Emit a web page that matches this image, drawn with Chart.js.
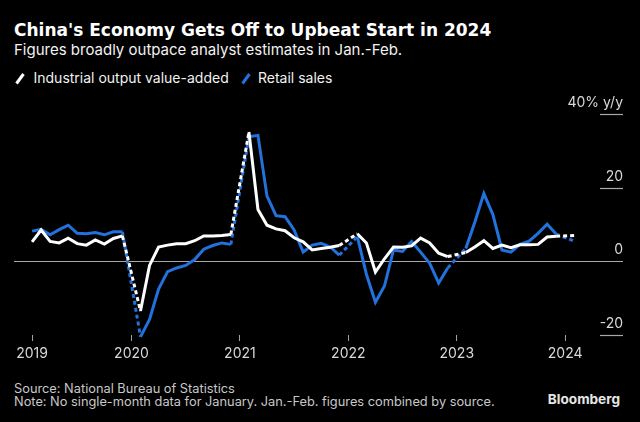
<!DOCTYPE html>
<html><head><meta charset="utf-8">
<script src="https://cdn.jsdelivr.net/npm/chart.js@4/dist/chart.umd.min.js"></script>
<style>
html,body{margin:0;padding:0;background:#000;}
body{width:640px;height:422px;position:relative;overflow:hidden;font-family:Inter,"Liberation Sans",sans-serif;}
.t{position:absolute;white-space:nowrap;}
#title{left:14px;top:21.5px;font:bold 17px/17px "DejaVu Sans";color:#fff;}
#sub{left:14px;top:42.3px;font:15px/15px Inter;color:#f2f2f2;}
.leg{top:70.8px;font:14px/14px Inter;color:#f2f2f2;}
#foot{left:14px;top:381.6px;font:12.8px/13.5px Inter;color:#c8c8c8;}
#bb{right:20px;top:393.3px;font:bold 13.6px/13.6px Inter;color:#e6e6e6;}
svg.ic{position:absolute;}
#wrap{position:absolute;left:0;top:90px;width:640px;height:280px;}
</style>
</head><body>
<div class="t" id="title">China's Economy Gets Off to Upbeat Start in 2024</div>
<div class="t" id="sub">Figures broadly outpace analyst estimates in Jan.-Feb.</div>
<svg class="ic" style="left:14px;top:72px" width="14" height="14"><line x1="2.5" y1="11.5" x2="9.5" y2="2" stroke="#ffffff" stroke-width="3"/></svg>
<div class="t leg" style="left:33.5px">Industrial output value-added</div>
<svg class="ic" style="left:240px;top:72px" width="14" height="14"><line x1="2.5" y1="11.5" x2="9.5" y2="2" stroke="#2271dc" stroke-width="3"/></svg>
<div class="t leg" style="left:258px">Retail sales</div>
<div id="wrap"><canvas id="c" width="640" height="280"></canvas></div>
<div class="t" id="foot">Source: National Bureau of Statistics<br>Note: No single-month data for January. Jan.-Feb. figures combined by source.</div>
<div class="t" id="bb">Bloomberg</div>
<script>
// Periods (January figures are combined with February by the source)
const periods = [
 '2019-02','2019-03','2019-04','2019-05','2019-06','2019-07','2019-08','2019-09','2019-10','2019-11','2019-12',
 '2020-02','2020-03','2020-04','2020-05','2020-06','2020-07','2020-08','2020-09','2020-10','2020-11','2020-12',
 '2021-02','2021-03','2021-04','2021-05','2021-06','2021-07','2021-08','2021-09','2021-10','2021-11','2021-12',
 '2022-02','2022-03','2022-04','2022-05','2022-06','2022-07','2022-08','2022-09','2022-10','2022-11','2022-12',
 '2023-02','2023-03','2023-04','2023-05','2023-06','2023-07','2023-08','2023-09','2023-10','2023-11','2023-12',
 '2024-02'
];
// Industrial output value-added, % y/y
const industrial = [
 5.3, 8.5, 5.4, 5.0, 6.3, 4.8, 4.4, 5.8, 4.7, 6.2, 6.9,
 -13.5, -1.1, 3.9, 4.4, 4.8, 4.8, 5.6, 6.9, 6.9, 7.0, 7.3,
 35.1, 14.1, 9.8, 8.8, 8.3, 6.4, 5.3, 3.1, 3.5, 3.8, 4.3,
 7.5, 5.0, -2.9, 0.7, 3.9, 3.8, 4.2, 6.3, 5.0, 2.2, 1.3,
 2.4, 3.9, 5.6, 3.5, 4.4, 3.7, 4.5, 4.5, 4.6, 6.6, 6.8,
 7.0
];
// Retail sales, % y/y
const retail = [
 8.2, 8.7, 7.2, 8.6, 9.8, 7.6, 7.5, 7.8, 7.2, 8.0, 8.0,
 -20.5, -15.8, -7.5, -2.8, -1.8, -1.1, 0.5, 3.3, 4.3, 5.0, 4.6,
 33.8, 34.2, 17.7, 12.4, 12.1, 8.5, 2.5, 4.4, 4.9, 3.9, 1.7,
 6.7, -3.5, -11.1, -6.7, 3.1, 2.7, 5.4, 2.5, -0.5, -5.9, -1.8,
 3.5, 10.6, 18.4, 12.7, 3.1, 2.5, 4.6, 5.5, 7.6, 10.1, 7.4,
 5.5
];
// x-axis year ticks (month index from Jan 2019) and labels
const yearTicks = [1, 12, 24, 36, 48, 60];
const yearLabels = ['2019', '2020', '2021', '2022', '2023', '2024'];
// y-axis ticks and labels
const yTicks = [40, 20, 0, -20];
const yLabels = ['40% y/y', '20', '0', '-20'];

const monthIndex = p => (parseInt(p.slice(0,4)) - 2019) * 12 + (parseInt(p.slice(5,7)) - 1);
const pts = vals => periods.map((p, i) => ({ x: monthIndex(p), y: vals[i] }));
const gapDash = ctx => (ctx.p1.parsed.x - ctx.p0.parsed.x > 1.5 ? [4, 3] : undefined);

const yAxisPlugin = {
  id: 'yAxisRight',
  beforeDatasetsDraw(chart) {
    const { ctx, chartArea: { left, right }, scales: { y } } = chart;
    ctx.save();
    yTicks.forEach((v, i) => {
      const py = Math.round(y.getPixelForValue(v)) + 0.5;
      ctx.strokeStyle = '#a8a8a8';
      ctx.lineWidth = 1.2;
      ctx.beginPath();
      ctx.moveTo(v === 0 ? left : right - 23, py);
      ctx.lineTo(right, py);
      ctx.stroke();
      ctx.fillStyle = '#d9d9d9';
      ctx.font = '14px Inter';
      ctx.textAlign = 'right';
      ctx.textBaseline = 'alphabetic';
      ctx.fillText(yLabels[i], right, py - 8);
    });
    ctx.restore();
  }
};

new Chart(document.getElementById('c'), {
  type: 'line',
  data: {
    datasets: [
      { label: 'Industrial output value-added', data: pts(industrial), borderColor: '#ffffff', borderWidth: 3,
        pointRadius: 0, tension: 0, clip: false, segment: { borderDash: gapDash } },
      { label: 'Retail sales', data: pts(retail), borderColor: '#2271dc', borderWidth: 3,
        pointRadius: 0, tension: 0, clip: false, segment: { borderDash: gapDash } }
    ]
  },
  options: {
    responsive: false,
    animation: false,
    events: [],
    layout: { padding: { left: 14, right: 17, top: 24, bottom: 0 } },
    plugins: { legend: { display: false }, tooltip: { enabled: false } },
    scales: {
      x: {
        type: 'linear', min: -1, max: 66.4,
        afterBuildTicks: s => { s.ticks = yearTicks.map(v => ({ value: v })); },
        afterFit: s => { s.height = 35; },
        grid: { display: true, drawOnChartArea: false, drawTicks: true, tickLength: 6, color: '#a0a0a0', lineWidth: 1 },
        border: { display: false },
        ticks: { color: '#d9d9d9', font: { family: 'Inter', size: 14 }, padding: 4, maxRotation: 0, autoSkip: false,
                 callback: v => yearLabels[yearTicks.indexOf(v)] }
      },
      y: { min: -20, max: 40, display: false }
    }
  },
  plugins: [yAxisPlugin]
});
</script></body></html>
